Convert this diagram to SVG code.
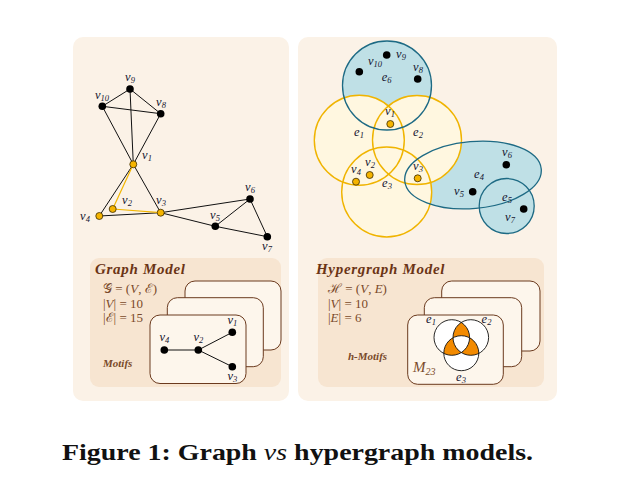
<svg xmlns="http://www.w3.org/2000/svg" width="627" height="481" viewBox="0 0 627 481">
<style>
.panel{fill:#fbf2e7}
.inner{fill:#f7e5d1}
.card{fill:#fdf6ec;stroke:#6b3a1e;stroke-width:1}
.edge{stroke:#111;stroke-width:1;fill:none}
.yedge{stroke:#f2b600;stroke-width:1.2;fill:none}
.bn{fill:#000}
.yn{fill:#f5b400;stroke:#3a2a00;stroke-width:0.8}
.lbl{font-family:"Liberation Serif",serif;font-style:italic;font-size:12.5px;fill:#151530;text-anchor:middle}
.sub{font-size:8.5px}
.yfill{fill:#fff7e0}
.bfill{fill:#bfe0e6}
.ystroke{fill:none;stroke:#f0b400;stroke-width:1.4}
.bstroke{fill:none;stroke:#1d6a84;stroke-width:1.3}
.title{font-family:"Liberation Serif",serif;font-style:italic;font-weight:bold;font-size:15px;fill:#6b3415;letter-spacing:0.7px}
.math{font-family:"Liberation Serif","DejaVu Serif",serif;font-size:13px;fill:#7a4a2a}
.motif{font-family:"Liberation Serif",serif;font-style:italic;font-weight:bold;font-size:11px;fill:#7a4a2a}
.venn{stroke:#111;stroke-width:0.9;fill:none}
.caption{font-family:"Liberation Serif",serif;font-weight:bold;font-size:23px;fill:#111}
</style>

<rect class="panel" x="73" y="37" width="216" height="364" rx="10"/>
<rect class="panel" x="298" y="37" width="259" height="364" rx="10"/>

<!-- Left graph -->
<g id="graph-edges">
<line class="edge" x1="130" y1="89" x2="102.3" y2="106.3"/>
<line class="edge" x1="130" y1="89" x2="160.7" y2="113.7"/>
<line class="edge" x1="102.3" y1="106.3" x2="160.7" y2="113.7"/>
<line class="edge" x1="130" y1="89" x2="133.3" y2="164.3"/>
<line class="edge" x1="102.3" y1="106.3" x2="133.3" y2="164.3"/>
<line class="edge" x1="160.7" y1="113.7" x2="133.3" y2="164.3"/>
<line class="edge" x1="133.3" y1="164.3" x2="99.3" y2="216"/>
<line class="edge" x1="133.3" y1="164.3" x2="160.7" y2="212.7"/>
<line class="edge" x1="99.3" y1="216" x2="160.7" y2="212.7"/>
<line class="yedge" x1="133.3" y1="164.3" x2="112.7" y2="209"/>
<line class="yedge" x1="112.7" y1="209" x2="160.7" y2="212.7"/>
<line class="edge" x1="160.7" y1="212.7" x2="250" y2="199"/>
<line class="edge" x1="160.7" y1="212.7" x2="215.3" y2="226.3"/>
<line class="edge" x1="215.3" y1="226.3" x2="250" y2="199"/>
<line class="edge" x1="215.3" y1="226.3" x2="267.3" y2="236.7"/>
<line class="edge" x1="250" y1="199" x2="267.3" y2="236.7"/>
</g>
<g id="g-v9"><circle class="bn" cx="130" cy="89" r="3.8"/><text class="lbl" x="130" y="81">v<tspan class="sub" dy="2">9</tspan></text></g>
<g id="g-v10"><circle class="bn" cx="102.3" cy="106.3" r="3.8"/><text class="lbl" x="102" y="99">v<tspan class="sub" dy="2">10</tspan></text></g>
<g id="g-v8"><circle class="bn" cx="160.7" cy="113.7" r="3.8"/><text class="lbl" x="161" y="106">v<tspan class="sub" dy="2">8</tspan></text></g>
<g id="g-v1"><circle class="yn" cx="133.3" cy="164.3" r="3.5"/><text class="lbl" x="147" y="159">v<tspan class="sub" dy="2">1</tspan></text></g>
<g id="g-v2"><circle class="yn" cx="112.7" cy="209" r="3.5"/><text class="lbl" x="127" y="204">v<tspan class="sub" dy="2">2</tspan></text></g>
<g id="g-v3"><circle class="yn" cx="160.7" cy="212.7" r="3.5"/><text class="lbl" x="161" y="204">v<tspan class="sub" dy="2">3</tspan></text></g>
<g id="g-v4"><circle class="yn" cx="99.3" cy="216" r="3.5"/><text class="lbl" x="85" y="220">v<tspan class="sub" dy="2">4</tspan></text></g>
<g id="g-v6"><circle class="bn" cx="250" cy="199" r="3.8"/><text class="lbl" x="250" y="191">v<tspan class="sub" dy="2">6</tspan></text></g>
<g id="g-v5"><circle class="bn" cx="215.3" cy="226.3" r="3.8"/><text class="lbl" x="215" y="219">v<tspan class="sub" dy="2">5</tspan></text></g>
<g id="g-v7"><circle class="bn" cx="267.3" cy="236.7" r="3.8"/><text class="lbl" x="267" y="250">v<tspan class="sub" dy="2">7</tspan></text></g>

<!-- Right hypergraph -->
<g id="hyperedges">
<circle class="bfill" cx="387" cy="85.5" r="44.5"/>
<ellipse class="bfill" cx="473" cy="175" rx="68.5" ry="33.5" transform="rotate(-5 473 175)"/>
<circle class="bfill" cx="506.7" cy="206" r="27.5"/>
<circle class="yfill" cx="359.3" cy="140.3" r="45"/>
<circle class="yfill" cx="417" cy="140" r="44.5"/>
<circle class="yfill" cx="386.7" cy="192" r="45"/>
<circle class="ystroke" cx="359.3" cy="140.3" r="45"/>
<circle class="ystroke" cx="417" cy="140" r="44.5"/>
<circle class="ystroke" cx="386.7" cy="192" r="45"/>
<circle class="bstroke" cx="387" cy="85.5" r="44.5"/>
<ellipse class="bstroke" cx="473" cy="175" rx="68.5" ry="33.5" transform="rotate(-5 473 175)"/>
<circle class="bstroke" cx="506.7" cy="206" r="27.5"/>
</g>
<g id="he-labels">
<text class="lbl" x="386.7" y="81">e<tspan class="sub" dy="2">6</tspan></text>
<text class="lbl" x="359" y="136">e<tspan class="sub" dy="2">1</tspan></text>
<text class="lbl" x="418" y="136">e<tspan class="sub" dy="2">2</tspan></text>
<text class="lbl" x="387" y="187">e<tspan class="sub" dy="2">3</tspan></text>
<text class="lbl" x="479" y="178">e<tspan class="sub" dy="2">4</tspan></text>
<text class="lbl" x="507" y="201">e<tspan class="sub" dy="2">5</tspan></text>
</g>
<g id="h-v9"><circle class="bn" cx="386.7" cy="55" r="3.8"/><text class="lbl" x="401" y="58">v<tspan class="sub" dy="2">9</tspan></text></g>
<g id="h-v10"><circle class="bn" cx="359.3" cy="71.7" r="3.8"/><text class="lbl" x="375" y="65">v<tspan class="sub" dy="2">10</tspan></text></g>
<g id="h-v8"><circle class="bn" cx="417.7" cy="79" r="3.8"/><text class="lbl" x="418" y="71">v<tspan class="sub" dy="2">8</tspan></text></g>
<g id="h-v1"><circle class="yn" cx="390.3" cy="124" r="3.5"/><text class="lbl" x="390" y="115">v<tspan class="sub" dy="2">1</tspan></text></g>
<g id="h-v2"><circle class="yn" cx="369.7" cy="175" r="3.5"/><text class="lbl" x="370" y="166">v<tspan class="sub" dy="2">2</tspan></text></g>
<g id="h-v4"><circle class="yn" cx="356" cy="181.7" r="3.5"/><text class="lbl" x="356" y="173">v<tspan class="sub" dy="2">4</tspan></text></g>
<g id="h-v3"><circle class="yn" cx="417.7" cy="178.3" r="3.5"/><text class="lbl" x="418" y="170">v<tspan class="sub" dy="2">3</tspan></text></g>
<g id="h-v6"><circle class="bn" cx="506.3" cy="164.7" r="3.8"/><text class="lbl" x="507" y="156">v<tspan class="sub" dy="2">6</tspan></text></g>
<g id="h-v5"><circle class="bn" cx="472.7" cy="191.7" r="3.8"/><text class="lbl" x="459" y="195">v<tspan class="sub" dy="2">5</tspan></text></g>
<g id="h-v7"><circle class="bn" cx="523.7" cy="209" r="3.8"/><text class="lbl" x="510" y="221">v<tspan class="sub" dy="2">7</tspan></text></g>

<!-- Graph Model box -->
<g id="graph-model">
<rect class="inner" x="90" y="258" width="191" height="129" rx="9"/>
<text class="title" x="95" y="274">Graph Model</text>
<text class="math" x="103" y="293">𝒢 = (<tspan font-style="italic">V</tspan>, ℰ)</text>
<text class="math" x="103" y="307.5">|<tspan font-style="italic">V</tspan>| = 10</text>
<text class="math" x="103" y="322">|ℰ| = 15</text>
<rect class="card" x="185" y="281" width="96" height="69" rx="10"/>
<rect class="card" x="167.3" y="297.7" width="96" height="69" rx="10"/>
<rect class="card" x="150" y="315" width="96" height="68.5" rx="10"/>
<text class="motif" x="103" y="367">Motifs</text>
</g>
<g id="motif-graph">
<line class="edge" x1="164.3" y1="350" x2="198.3" y2="350"/>
<line class="edge" x1="198.3" y1="350" x2="232.3" y2="332.3"/>
<line class="edge" x1="198.3" y1="350" x2="232.3" y2="366.7"/>
<circle class="bn" cx="164.3" cy="350" r="3.8"/>
<circle class="bn" cx="198.3" cy="350" r="3.8"/>
<circle class="bn" cx="232.3" cy="332.3" r="3.8"/>
<circle class="bn" cx="232.3" cy="366.7" r="3.8"/>
<text class="lbl" x="164.3" y="341">v<tspan class="sub" dy="2">4</tspan></text>
<text class="lbl" x="198.3" y="341">v<tspan class="sub" dy="2">2</tspan></text>
<text class="lbl" x="232.3" y="324">v<tspan class="sub" dy="2">1</tspan></text>
<text class="lbl" x="232.3" y="380">v<tspan class="sub" dy="2">3</tspan></text>
</g>

<!-- Hypergraph Model box -->
<g id="hypergraph-model">
<rect class="inner" x="318" y="258" width="226" height="129" rx="9"/>
<text class="title" x="316" y="274">Hypergraph Model</text>
<text class="math" x="328" y="293">ℋ = (<tspan font-style="italic">V</tspan>, <tspan font-style="italic">E</tspan>)</text>
<text class="math" x="328" y="307.5">|<tspan font-style="italic">V</tspan>| = 10</text>
<text class="math" x="328" y="322">|<tspan font-style="italic">E</tspan>| = 6</text>
<rect class="card" x="441.7" y="281" width="98.3" height="70" rx="10"/>
<rect class="card" x="424.3" y="297.7" width="97.4" height="69" rx="10"/>
<rect class="card" x="407.7" y="315" width="95.6" height="69.3" rx="10"/>
<text class="motif" x="348" y="360" font-size="11.5">h-Motifs</text>
</g>
<g id="venn">
<defs>
<clipPath id="c1"><circle cx="451.8" cy="337.5" r="17.8"/></clipPath>
<clipPath id="c2"><circle cx="470.8" cy="337.5" r="17.8"/></clipPath>
</defs>
<circle cx="451.8" cy="337.5" r="17.8" fill="#fff"/>
<circle cx="470.8" cy="337.5" r="17.8" fill="#fff"/>
<circle cx="461.3" cy="353.2" r="17.5" fill="#fff"/>
<g clip-path="url(#c1)"><circle cx="470.8" cy="337.5" r="17.8" fill="#f28a00"/><circle cx="461.3" cy="353.2" r="17.5" fill="#f28a00"/></g>
<g clip-path="url(#c2)"><circle cx="461.3" cy="353.2" r="17.5" fill="#f28a00"/></g>
<g clip-path="url(#c1)"><g clip-path="url(#c2)"><circle cx="461.3" cy="353.2" r="17.5" fill="#fff"/></g></g>
<circle class="venn" cx="451.8" cy="337.5" r="17.8"/>
<circle class="venn" cx="470.8" cy="337.5" r="17.8"/>
<circle class="venn" cx="461.3" cy="353.2" r="17.5"/>
<text class="lbl" x="431" y="323">e<tspan class="sub" dy="2">1</tspan></text>
<text class="lbl" x="486.5" y="323">e<tspan class="sub" dy="2">2</tspan></text>
<text class="lbl" x="461" y="381">e<tspan class="sub" dy="2">3</tspan></text>
<text x="413" y="372" font-family="Liberation Serif,serif" font-style="italic" font-size="15" fill="#7a4a2a">M<tspan font-size="10" dy="3">23</tspan></text>
</g>

<text class="caption" x="62" y="460" textLength="471" lengthAdjust="spacingAndGlyphs">Figure 1: Graph <tspan font-style="italic" font-weight="normal">vs</tspan> hypergraph models.</text>
</svg>
